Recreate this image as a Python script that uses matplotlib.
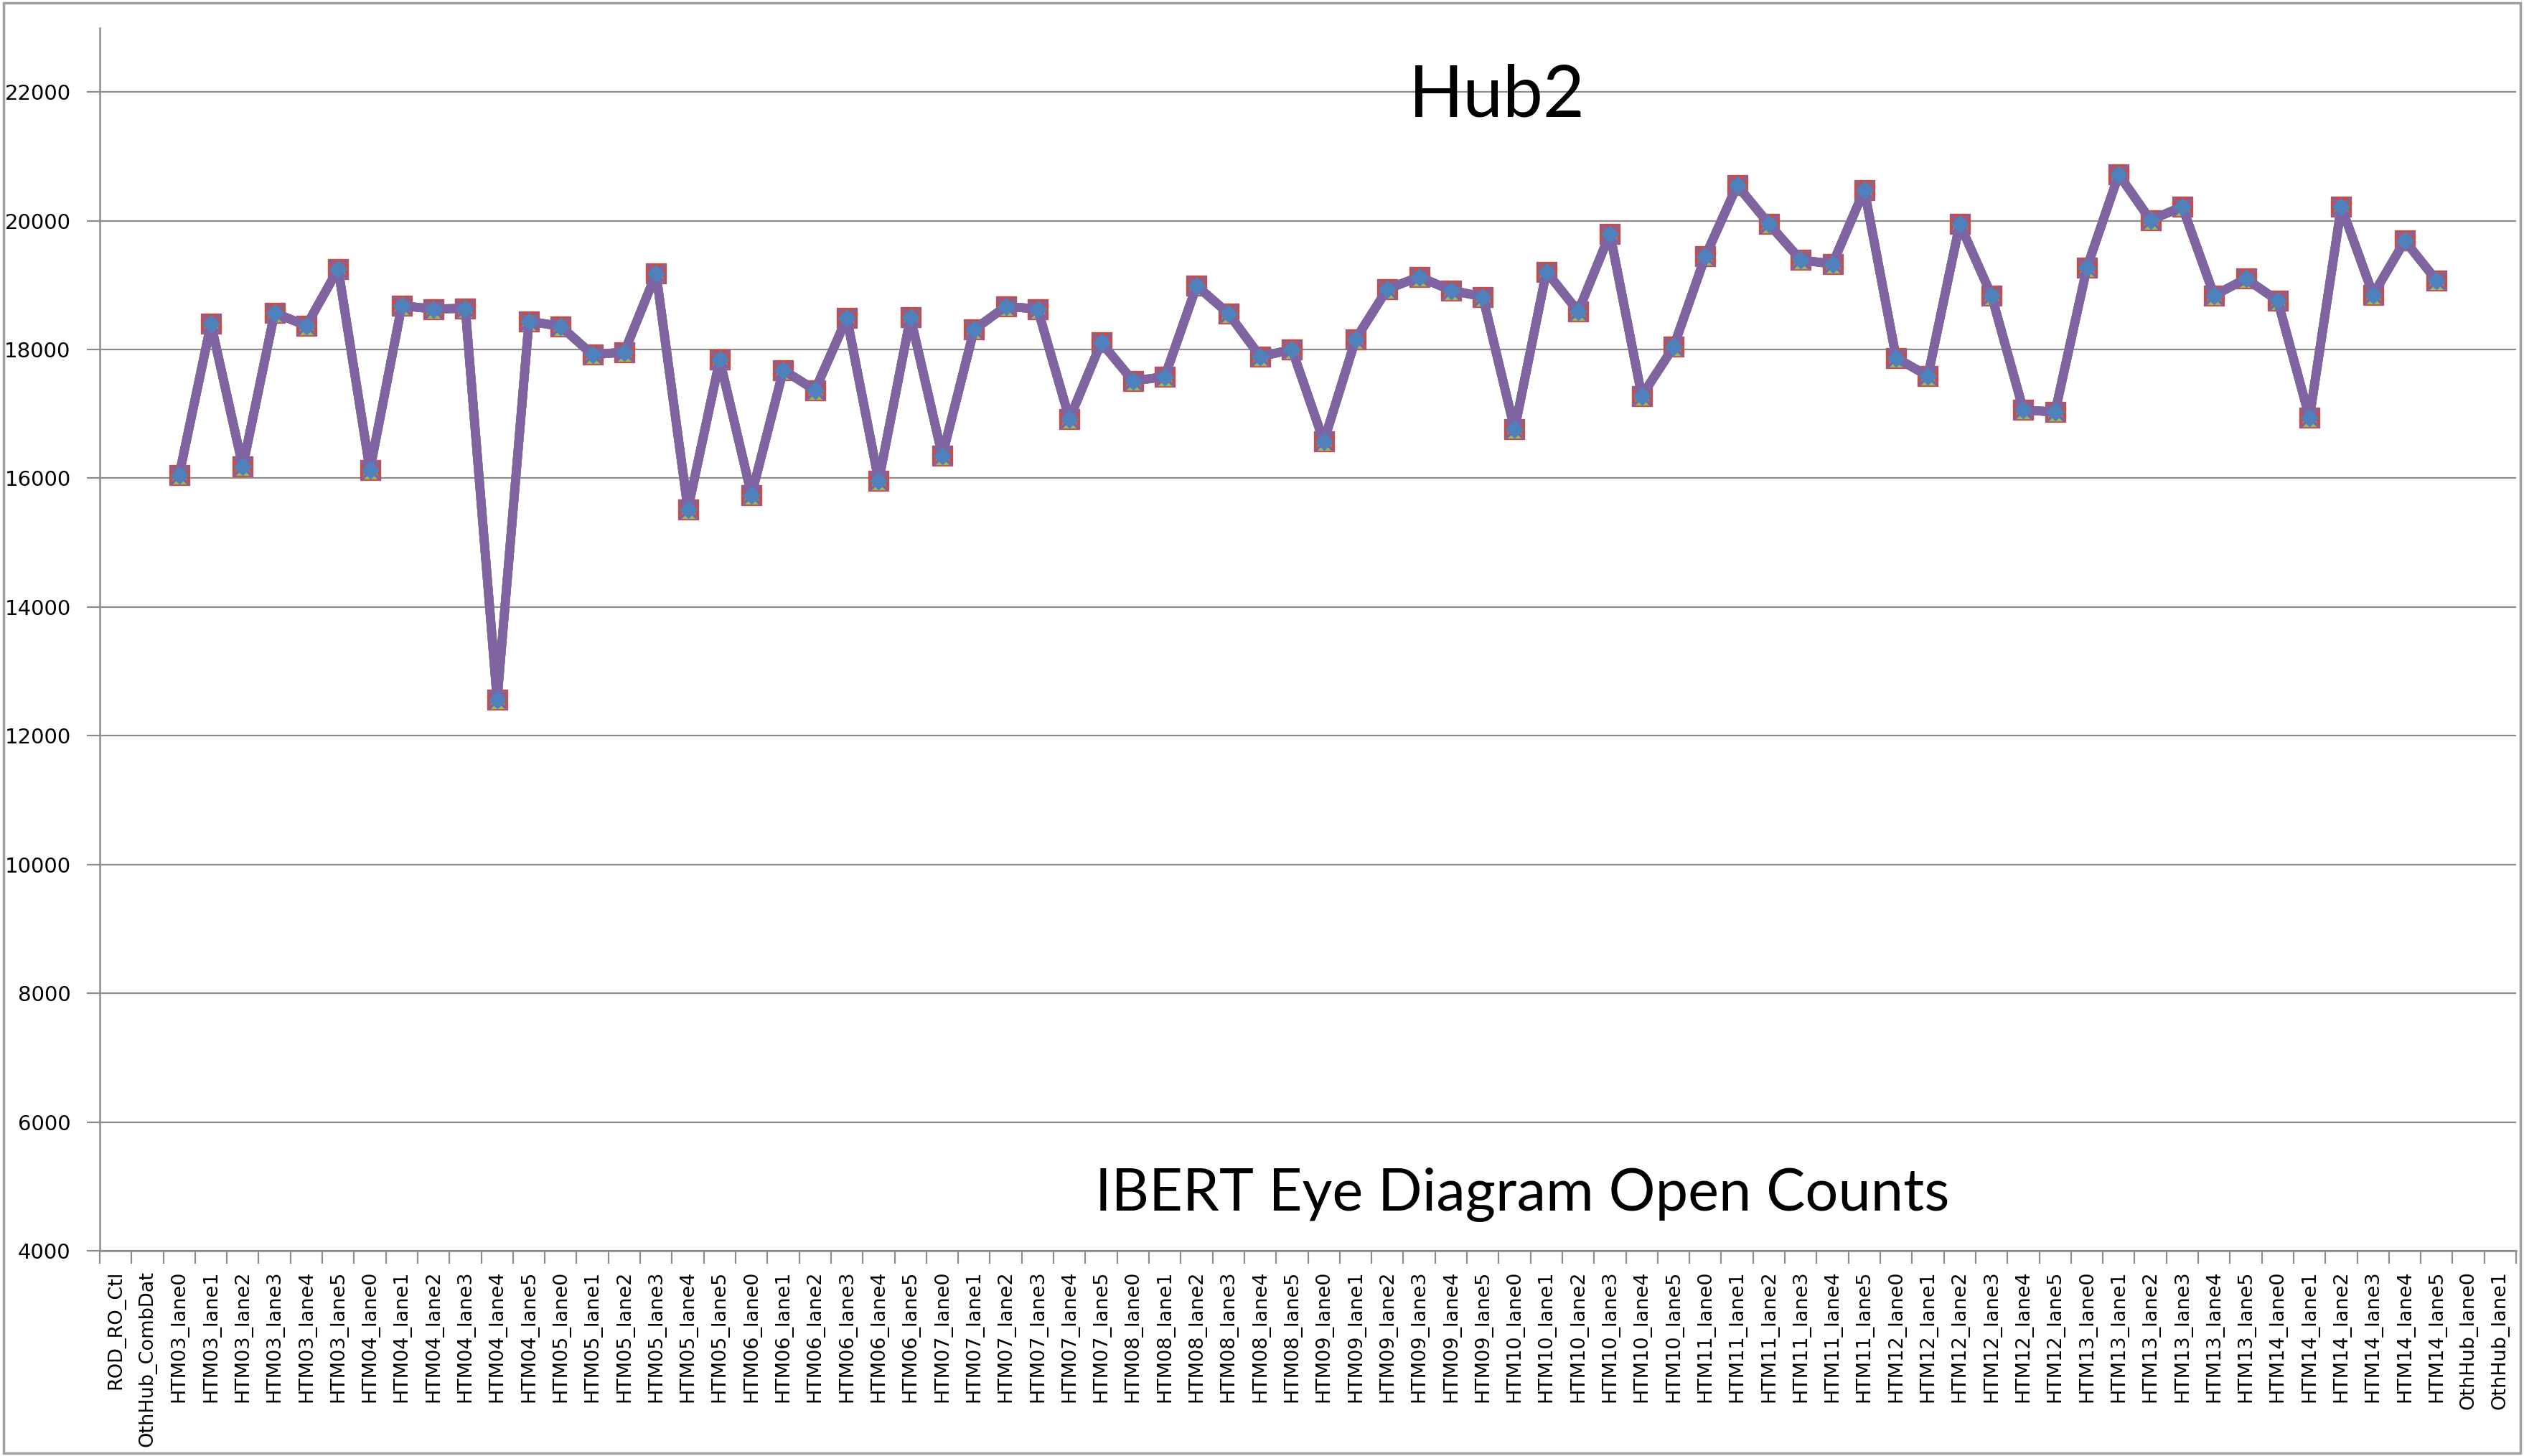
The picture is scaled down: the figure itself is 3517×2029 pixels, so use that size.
import numpy as np
import matplotlib.pyplot as plt
from matplotlib.patches import Rectangle

# categories on the x axis
hubs = ['HTM03', 'HTM04', 'HTM05', 'HTM06', 'HTM07', 'HTM08',
        'HTM09', 'HTM10', 'HTM11', 'HTM12', 'HTM13', 'HTM14']
lanes = ['lane0', 'lane1', 'lane2', 'lane3', 'lane4', 'lane5']
categories = (['ROD_RO_Ctl', 'OthHub_CombDat']
              + [h + '_' + l for h in hubs for l in lanes]
              + ['OthHub_lane0', 'OthHub_lane1'])

# eye open counts per lane (HTM03_lane0 .. HTM14_lane5)
htm_counts = [
    16050, 18400, 16180, 18570, 18370, 19250,   # HTM03
    16130, 18680, 18630, 18640, 12560, 18440,   # HTM04
    18360, 17920, 17960, 19180, 15520, 17840,   # HTM05
    15740, 17680, 17370, 18490, 15960, 18500,   # HTM06
    16350, 18310, 18670, 18630, 16920, 18110,   # HTM07
    17510, 17580, 18990, 18560, 17890, 18000,   # HTM08
    16570, 18160, 18940, 19130, 18920, 18820,   # HTM09
    16760, 19210, 18590, 19800, 17280, 18040,   # HTM10
    19450, 20550, 19950, 19390, 19330, 20480,   # HTM11
    17870, 17590, 19950, 18840, 17060, 17030,   # HTM12
    19270, 20720, 20010, 20220, 18840, 19100,   # HTM13
    18760, 16940, 20220, 18850, 19690, 19070,   # HTM14
]
# ROD_RO_Ctl, OthHub_CombDat, OthHub_lane0, OthHub_lane1 have no data
counts = np.array([np.nan, np.nan] + htm_counts + [np.nan, np.nan])

x = np.arange(len(categories))

fig = plt.figure(figsize=(35.17, 20.29), dpi=100)
ax = fig.add_axes([0.0395, 0.141, 0.9574, 0.840])

# several runs overlap almost exactly -> excel style series stack
ax.plot(x, counts, color='#C0504D', lw=9, marker='s', ms=20, mec='#C0504D', zorder=3)
ax.plot(x, counts, color='#9BBB59', lw=9, marker='^', ms=17, mec='#9BBB59', zorder=3)
ax.plot(x, counts, color='#4F81BD', lw=9, zorder=3)
ax.plot(x, counts, color='#8064A2', lw=9, marker='x', ms=18, mew=3, zorder=4)
ax.plot(x, counts, ls='none', marker='D', ms=12, color='#4F81BD', zorder=5)

ax.set_xlim(-0.5, len(categories) - 0.5)
ax.set_ylim(4000, 23000)
ax.set_yticks(np.arange(4000, 22001, 2000))
ax.set_yticklabels([str(v) for v in range(4000, 22001, 2000)], fontsize=21)
ax.yaxis.grid(True, color='#8c8c8c', lw=1.6)
ax.set_axisbelow(True)

# labels centred on categories, tick marks between them
ax.set_xticks(x)
ax.set_xticklabels(categories, rotation=90, fontsize=19.5, va='top', ha='center')
ax.set_xticks(np.arange(-0.5, len(categories)), minor=True)
ax.tick_params(axis='x', which='major', length=0, pad=20)
ax.tick_params(axis='x', which='minor', length=13, width=1.6, color='#8c8c8c', direction='out')
ax.tick_params(axis='y', length=13, width=1.6, color='#8c8c8c', direction='out', pad=16)

for s in ['top', 'right']:
    ax.spines[s].set_visible(False)
for s in ['left', 'bottom']:
    ax.spines[s].set_color('#8c8c8c')
    ax.spines[s].set_linewidth(1.8)

fig.text(0.593, 0.920, 'Hub2', fontsize=72, family=['Lato', 'DejaVu Sans'],
         ha='center', va='baseline')
fig.text(0.603, 0.1686, 'IBERT Eye Diagram Open Counts', fontsize=58.5,
         family=['Lato', 'DejaVu Sans'], ha='center', va='baseline')

# chart area border
fig.patches.append(Rectangle((0.0015, 0.002), 0.997, 0.996, transform=fig.transFigure,
                             fill=False, edgecolor='#a0a0a0', lw=2.5))

fig.savefig('out.png', dpi=100, facecolor='white')
